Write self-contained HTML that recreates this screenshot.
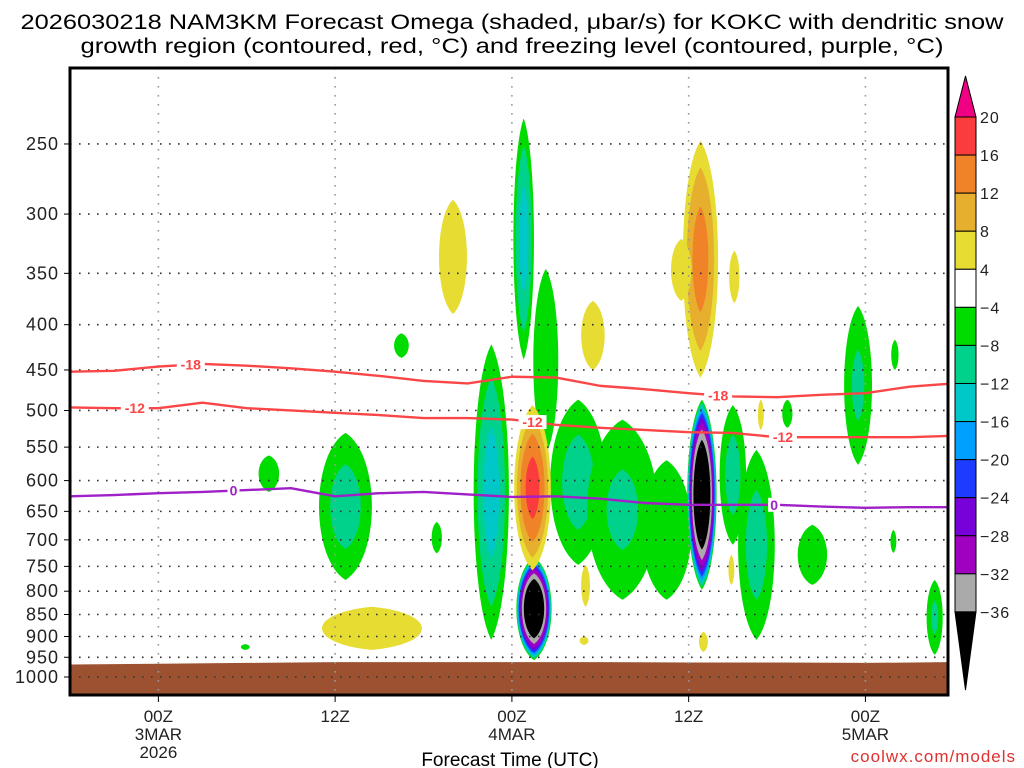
<!DOCTYPE html>
<html><head><meta charset="utf-8"><style>
html,body{margin:0;padding:0;background:#fff;width:1024px;height:768px;overflow:hidden}
svg{display:block;font-family:"Liberation Sans",sans-serif}
</style></head><body>
<svg id="chart" width="1024" height="768" viewBox="0 0 1024 768" xmlns="http://www.w3.org/2000/svg">
<text x="512" y="29" font-size="21" text-anchor="middle" textLength="983" lengthAdjust="spacingAndGlyphs">2026030218 NAM3KM Forecast Omega (shaded, μbar/s) for KOKC with dendritic snow</text>
<text x="512" y="53" font-size="21" text-anchor="middle" textLength="863" lengthAdjust="spacingAndGlyphs">growth region (contoured, red, °C) and freezing level (contoured, purple, °C)</text>
<g id="plot"></g>
<text x="510" y="766" font-size="19" text-anchor="middle">Forecast Time (UTC)</text>
<text x="1016" y="762" font-size="17" fill="#e03030" text-anchor="end" letter-spacing="1">coolwx.com/models</text>
</svg>
<script>
// ---- data ----
const pressureTicks = [250,300,350,400,450,500,550,600,650,700,750,800,850,900,950,1000];
const timeTickHours = [0,12,24,36,48];
const timeTickLine1 = ["00Z","12Z","00Z","12Z","00Z"];
const timeTickLine2 = ["3MAR","","4MAR","","5MAR"];
const timeTickLine3 = ["2026","","","",""];
const colorLevels = [-36,-32,-28,-24,-20,-16,-12,-8,-4,4,8,12,16,20];
const lineHours = [-6,-3,0,3,6,9,12,15,18,21,24,27,30,33,36,39,42,45,48,51,54];
const dgz18 = [452,451,446,443,445,448,452,457,463,466,458,459,469,473,478,482,483,480,478,470,466];
const dgz12 = [496,497,497,490,497,500,503,506,510,510,512,519,523,526,529,530,536,536,536,536,534];
const freezing0 = [625,623,620,618,615,612,625,620,618,622,626,625,629,636,639,639,639,642,644,643,643];
const groundHours = [-6,0,6,12,18,24,30,36,42,48,54];
const groundPressure = [968,966,964,962,962,962,962,963,963,964,962];
// omega blobs
const blobHour = [12.7,7.5,16.5,18.9,22.6,24.8,26.3,25.5,28.5,31.5,34.5,36.9,39.0,40.6,42.7,44.4,47.5,50.0,49.9,52.7,5.9, 20.0,29.5,36.8,35.5,39.1,25.4,14.5,29.0,37.0,38.9,40.9,28.9];
const blobTopP = [530,562,409,668,421,234,346,732,486,512,569,486,493,554,486,673,381,416,682,777,918, 289,376,248,320,330,493,833,747,889,728,486,900];
const blobBotP = [777,618,436,725,908,438,560,957,747,818,818,797,709,908,523,787,576,450,724,944,932, 389,450,459,376,378,758,932,833,937,787,526,920];
const blobHalfWidth = [1.8,0.7,0.5,0.35,1.2,0.7,0.85,1.2,1.9,2.4,1.7,1.0,0.9,1.25,0.35,1.0,0.95,0.25,0.2,0.55,0.3, 0.95,0.8,1.2,0.7,0.35,1.25,3.4,0.3,0.3,0.2,0.2,0.3];
const blobPeak = [-10,-6,-6,-6,-14,-14,-6,-40,-10,-9,-6,-40,-10,-10,-6,-6,-9,-6,-6,-9,-6, 6,6,14,6,6,18,6,6,6,6,6,6];

// ---- layout ----
const L=70,R=948,T=68,B=695;
const x = h => L + (h+6)*14.73;
const y = p => 677 - Math.log(1000/p)*384.5;
const NS='http://www.w3.org/2000/svg';
const plot=document.getElementById('plot');
const svg=document.getElementById('chart');
function mk(tag,attrs,parent){const e=document.createElementNS(NS,tag);for(const k in attrs)e.setAttribute(k,attrs[k]);(parent||plot).appendChild(e);return e;}
const negColors={'-4':'#00dc00','-8':'#00d28c','-12':'#00c8c8','-16':'#00a0ff','-20':'#1e3cff','-24':'#7800d8','-28':'#a000c0','-32':'#aaaaaa','-36':'#000000'};
const posColors={'4':'#e6dc32','8':'#e6af2d','12':'#f08228','16':'#fa3c3c','20':'#f00082'};
function lens(cx,cy,rx,ry){
  const t=cy-ry,b=cy+ry,k=1.33*rx,c1=t+ry*0.3,c2=b-ry*0.3;
  return `M${cx},${t} C${cx+k},${c1} ${cx+k},${c2} ${cx},${b} C${cx-k},${c2} ${cx-k},${c1} ${cx},${t} Z`;
}

const clip=mk('clipPath',{id:'pc'},svg);
mk('rect',{x:L,y:T,width:R-L,height:B-T},clip);
const gShade=mk('g',{'clip-path':'url(#pc)'});



for(let i=0;i<blobHour.length;i++){
  const v=blobPeak[i], s=Math.sign(v), av=Math.abs(v);
  const cx=x(blobHour[i]), y0=y(blobTopP[i]), y1=y(blobBotP[i]);
  const cy=(y0+y1)/2, ry=(y1-y0)/2, rx=blobHalfWidth[i]*14.73;
  const ex = av>20 ? 0.25 : 0.5;
  for(let t=4;t<av;t+=4){
    const r=Math.pow((av-t)/(av-4),ex);
    const col = s<0 ? negColors[String(-t)] : posColors[String(t)];
    if(!col) continue;
    const e=mk('path',{d:lens(cx,cy,Math.max(rx*r,0.8),Math.max(ry*r,1)),fill:col},gShade);
    
    
  }
}
// ground
let gd='M'+L+','+B;
groundHours.forEach((h,i)=>{gd+=' L'+x(h)+','+y(groundPressure[i]);});
gd+=' L'+R+','+B+' Z';
const ground=mk('path',{d:gd,fill:'#9c5230'},gShade);



// grid + y labels
pressureTicks.forEach(p=>{
  const yy=y(p);
  const gl=mk('line',{x1:L,x2:R,y1:yy,y2:yy,stroke:'#333','stroke-width':1.6,'stroke-dasharray':'1.6 7.4'});
  
  
  const tk=mk('line',{x1:L-6,x2:L,y1:yy,y2:yy,stroke:'#000'});
  
  
  const t=mk('text',{x:59,y:yy+6,'font-size':18,'text-anchor':'end',fill:'#222','letter-spacing':'1'});
  t.textContent=p;
  
  
});
timeTickHours.forEach((h,i)=>{
  const xx=x(h);
  const gl=mk('line',{x1:xx,x2:xx,y1:T,y2:B,stroke:'#999','stroke-width':1.6,'stroke-dasharray':'1.6 7.4'});
  
  
  const tk=mk('line',{x1:xx,x2:xx,y1:B,y2:B+7,stroke:'#000'});
  
  
  [timeTickLine1[i],timeTickLine2[i],timeTickLine3[i]].forEach((s,j)=>{
    if(!s)return;
    const t=mk('text',{x:xx,y:722+j*18,'font-size':17,'text-anchor':'middle',fill:'#222'});
    t.textContent=s;
    
    
  });
});

// contour lines
function drawLine(arr,color,name,labels,labelText){
  let d='';
  arr.forEach((p,i)=>{d+=(i?' L':'M')+x(lineHours[i])+','+y(p);});
  const pl=mk('path',{d:d,fill:'none',stroke:color,'stroke-width':2.4,'stroke-linejoin':'round','clip-path':'url(#pc)'});
  
  
  labels.forEach(h=>{
    let k=0; while(k<lineHours.length-2 && lineHours[k+1]<h) k++;
    const f=(h-lineHours[k])/(lineHours[k+1]-lineHours[k]);
    const yy=y(arr[k])*(1-f)+y(arr[k+1])*f;
    const w=labelText.length*8+4;
    const bg=mk('rect',{x:x(h)-w/2,y:yy-7,width:w,height:14,fill:'#fff'});
    
    
    const t=mk('text',{x:x(h),y:yy+5,'font-size':14,'font-weight':'bold','text-anchor':'middle',fill:color});
    t.textContent=labelText;
    
    
  });
}
drawLine(dgz18,'#fa4646','dgz-minus18-line',[2.2,38],'-18');
drawLine(dgz12,'#fa4646','dgz-minus12-line',[-1.6,25.4,42.4],'-12');
drawLine(freezing0,'#a020c8','freezing-level-line',[5.1,41.8],'0');

// frame
const fr=mk('rect',{x:L,y:T,width:R-L,height:B-T,fill:'none',stroke:'#000','stroke-width':3});



// colorbar
const cbX=955,cbW=21,cbTop=117,cbH=38.07;
const cb=mk('g',{},svg);


const tri=mk('polygon',{points:`${cbX},${cbTop} ${cbX+cbW},${cbTop} ${cbX+cbW/2},76`,fill:'#f00082',stroke:'#000'},cb);


const blocks=['#fa3c3c','#f08228','#e6af2d','#e6dc32','#ffffff','#00dc00','#00d28c','#00c8c8','#00a0ff','#1e3cff','#7800d8','#a000c0','#aaaaaa'];
blocks.forEach((c,i)=>{
  const r=mk('rect',{x:cbX,y:cbTop+i*cbH,width:cbW,height:cbH,fill:c,stroke:'#000'},cb);
  
  
});
const bot=cbTop+blocks.length*cbH;
const tri2=mk('polygon',{points:`${cbX},${bot} ${cbX+cbW},${bot} ${cbX+cbW/2},690`,fill:'#000',stroke:'#000'},cb);


const rev=colorLevels.slice().reverse();
rev.forEach((v,i)=>{
  const t=mk('text',{x:980,y:cbTop+i*cbH+6,'font-size':16,fill:'#222','letter-spacing':'1'},cb);
  t.textContent=v<0?'−'+(-v):String(v);
  
  
});
</script>
</body></html>
